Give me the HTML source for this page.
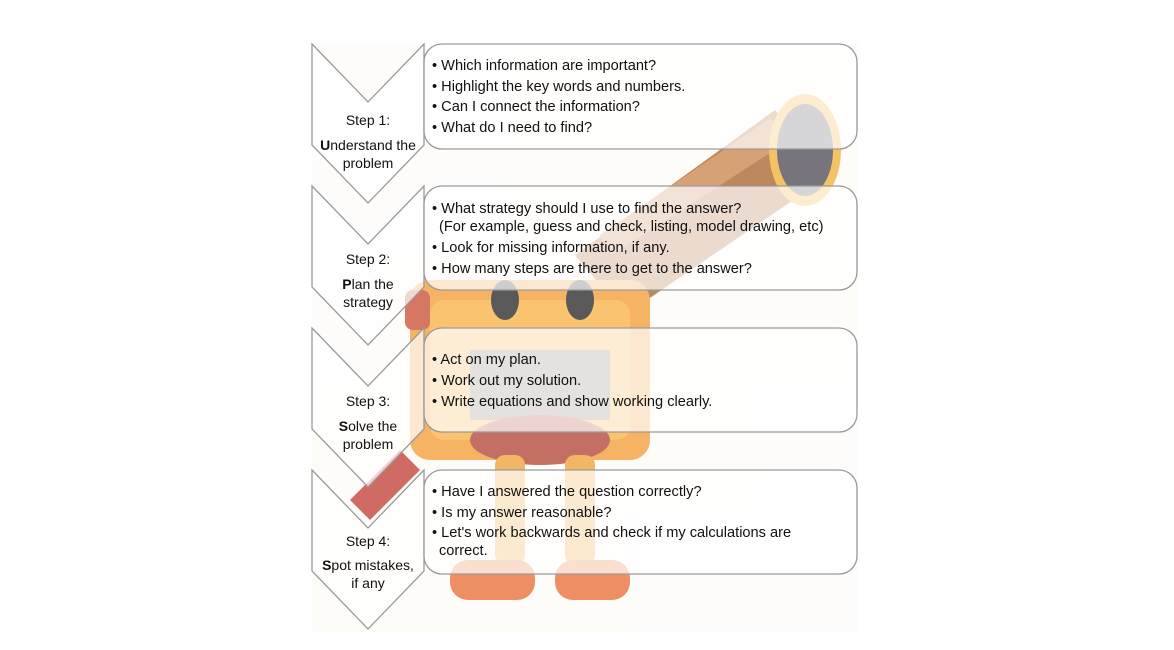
<!DOCTYPE html>
<html><head><meta charset="utf-8"><style>
html,body{margin:0;padding:0;background:#fff;}
svg{display:block}
text{font-family:"Liberation Sans",sans-serif;font-size:14.6px;fill:#111;}
.c{text-anchor:middle;font-size:14px}
</style></head><body>
<svg width="1174" height="650" viewBox="0 0 1174 650">
<g opacity="0.75">
<rect x="312" y="44" width="546" height="588" fill="#fdfbf8"/>
<polygon points="575,255 775,110 830,175 625,315" fill="#a8602a"/>
<polygon points="600,235 770,118 790,140 612,255" fill="#c98448"/>
<ellipse cx="805" cy="150" rx="36" ry="56" fill="#f0b030"/>
<ellipse cx="805" cy="150" rx="28" ry="46" fill="#4a4650"/>
<rect x="410" y="280" width="240" height="180" rx="20" fill="#f29a30"/>
<rect x="430" y="300" width="200" height="140" rx="14" fill="#f7b040"/>
<ellipse cx="505" cy="300" rx="14" ry="20" fill="#222"/>
<ellipse cx="580" cy="300" rx="14" ry="20" fill="#222"/>
<rect x="470" y="350" width="140" height="70" fill="#8a7a6a"/>
<rect x="405" y="290" width="25" height="40" rx="8" fill="#c84a30"/>
<ellipse cx="540" cy="440" rx="70" ry="25" fill="#b04030"/>
<rect x="495" y="455" width="30" height="110" rx="10" fill="#f0a030"/>
<rect x="565" y="455" width="30" height="110" rx="10" fill="#f0a030"/>
<rect x="450" y="560" width="85" height="40" rx="18" fill="#e86a30"/>
<rect x="555" y="560" width="75" height="40" rx="18" fill="#e86a30"/>
<polygon points="350,500 400,450 420,470 370,520" fill="#c03a30"/>
</g>
<g fill="#fff" fill-opacity="0.7" stroke="#9a9a9a" stroke-width="1.3">
<polygon points="312,44 368,102 424,44 424,145 368,203 312,145"/>
<polygon points="312,186 368,244 424,186 424,287 368,345 312,287"/>
<polygon points="312,328 368,386 424,328 424,429 368,487 312,429"/>
<polygon points="312,470 368,528 424,470 424,571 368,629 312,571"/>
<rect x="424" y="44" width="433" height="105" rx="18"/>
<rect x="424" y="186" width="433" height="104" rx="18"/>
<rect x="424" y="328" width="433" height="104" rx="18"/>
<rect x="424" y="470" width="433" height="104" rx="18"/>
</g>
<g>
<text class="c" x="368" y="125">Step 1:</text>
<text class="c" x="368" y="150"><tspan font-weight="bold">U</tspan>nderstand the</text>
<text class="c" x="368" y="168">problem</text>
<text class="c" x="368" y="264">Step 2:</text>
<text class="c" x="368" y="289"><tspan font-weight="bold">P</tspan>lan the</text>
<text class="c" x="368" y="307">strategy</text>
<text class="c" x="368" y="406">Step 3:</text>
<text class="c" x="368" y="431"><tspan font-weight="bold">S</tspan>olve the</text>
<text class="c" x="368" y="449">problem</text>
<text class="c" x="368" y="546">Step 4:</text>
<text class="c" x="368" y="570"><tspan font-weight="bold">S</tspan>pot mistakes,</text>
<text class="c" x="368" y="588">if any</text>
</g>
<g>
<text x="432" y="70">• Which information are important?</text>
<text x="432" y="91">• Highlight the key words and numbers.</text>
<text x="432" y="111">• Can I connect the information?</text>
<text x="432" y="132">• What do I need to find?</text>
<text x="432" y="213">• What strategy should I use to find the answer?</text>
<text x="439" y="231">(For example, guess and check, listing, model drawing, etc)</text>
<text x="432" y="252">• Look for missing information, if any.</text>
<text x="432" y="273">• How many steps are there to get to the answer?</text>
<text x="432" y="364">• Act on my plan.</text>
<text x="432" y="385">• Work out my solution.</text>
<text x="432" y="406">• Write equations and show working clearly.</text>
<text x="432" y="496">• Have I answered the question correctly?</text>
<text x="432" y="517">• Is my answer reasonable?</text>
<text x="432" y="537">• Let's work backwards and check if my calculations are</text>
<text x="439" y="555">correct.</text>
</g>
</svg>
</body></html>
